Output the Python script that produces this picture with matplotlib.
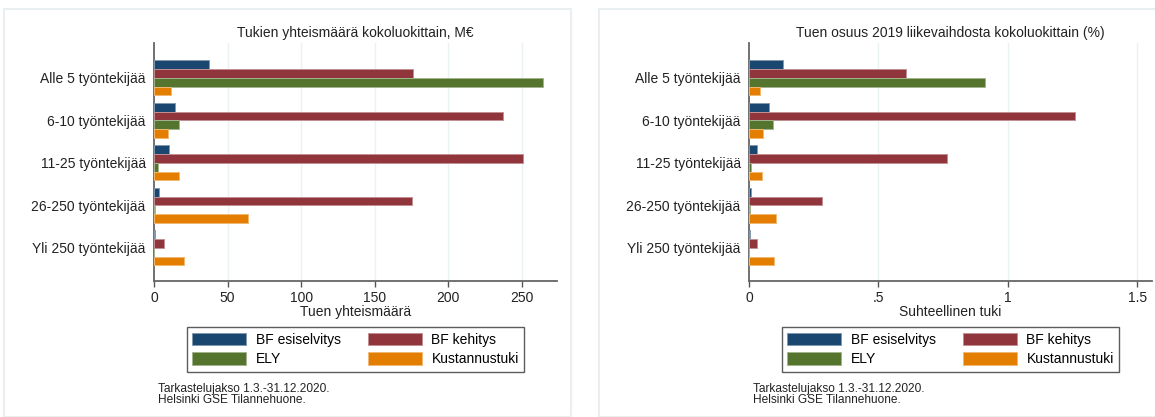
import numpy as np
import matplotlib
matplotlib.use('Agg')
import matplotlib.pyplot as plt
from matplotlib.patches import Patch, Rectangle
from matplotlib.colors import to_rgb

plt.rcParams['font.family'] = ['Liberation Sans', 'DejaVu Sans']

categories = ['Alle 5 työntekijää', '6-10 työntekijää', '11-25 työntekijää',
              '26-250 työntekijää', 'Yli 250 työntekijää']
series = ['BF esiselvitys', 'BF kehitys', 'ELY', 'Kustannustuki']

# Tukien yhteismäärä, M€
total_esi = [37.4, 14.5, 10.0, 3.4, 0.6]
total_keh = [176.0, 236.9, 250.5, 175.0, 6.6]
total_ely = [264.2, 17.2, 2.5, 0.5, 0.0]
total_kust = [11.8, 9.7, 16.8, 64.0, 20.6]

# Suhteellinen tuki (%)
rel_esi = [0.130, 0.079, 0.030, 0.006, 0.002]
rel_keh = [0.607, 1.260, 0.763, 0.283, 0.030]
rel_ely = [0.912, 0.091, 0.009, 0.002, 0.0]
rel_kust = [0.042, 0.053, 0.051, 0.104, 0.095]

left_ticks = [0, 50, 100, 150, 200, 250]
left_ticklabels = ['0', '50', '100', '150', '200', '250']
right_ticks = [0, 0.5, 1, 1.5]
right_ticklabels = ['0', '.5', '1', '1.5']

colors = ['#1a476f', '#90353b', '#55752f', '#e37e00']
note = 'Tarkastelujakso 1.3.-31.12.2020.\nHelsinki GSE Tilannehuone.'

W, H = 1155, 417
fig = plt.figure(figsize=(W / 100, H / 100), dpi=100)
fig.patch.set_facecolor('white')


def px(x0, y0, x1, y1):
    # pixel box (top-left origin) -> figure fraction rect
    return (x0 / W, 1 - y1 / H, (x1 - x0) / W, (y1 - y0) / H)


def lighter(c, f=0.45):
    r = np.array(to_rgb(c))
    return tuple(r + (1 - r) * f)


# panel frames
for x0, x1 in [(4, 571), (599, 1160)]:
    fig.patches.append(Rectangle((x0 / W, 0), (x1 - x0) / W, 1 - 9 / H,
                                 transform=fig.transFigure, fill=False,
                                 edgecolor='#e9eff1', lw=1.5, zorder=0))


def panel(x0, x1, data, xmax, ticks, ticklabels, title, xlabel):
    ax = fig.add_axes(px(x0, 43, x1, 281))
    h = 0.205
    y = np.arange(len(categories))
    for j, vals in enumerate(data):
        ax.barh(y + (j - 1.5) * h, vals, height=h, color=colors[j],
                edgecolor=lighter(colors[j]), linewidth=0.7, zorder=3)
    ax.set_ylim(4.78, -0.82)
    ax.set_xlim(0, xmax)
    ax.set_yticks(y)
    ax.set_yticklabels(categories, fontsize=10, color='#222222')
    ax.tick_params(axis='y', length=0, pad=6)
    ax.set_xticks(ticks)
    ax.set_xticklabels(ticklabels, fontsize=10, color='#222222')
    ax.tick_params(axis='x', length=4, width=1, color='#555555', pad=3)
    for t in ticks[1:]:
        ax.axvline(t, color='#eaf2f3', lw=1, zorder=1)
    for s in ['top', 'right']:
        ax.spines[s].set_visible(False)
    for s in ['left', 'bottom']:
        ax.spines[s].set_color('#666666')
        ax.spines[s].set_linewidth(1.3)
    ax.set_xlabel(xlabel, fontsize=10, color='#222222', labelpad=0)
    cx = (x0 + x1) / 2 / W
    fig.text(cx, 1 - 33 / H, title, ha='center', va='center',
             fontsize=10, color='#222222')
    # row-wise order in a 2-column legend
    order = [0, 2, 1, 3]
    handles = [Patch(facecolor=colors[k], edgecolor=lighter(colors[k]), lw=0.7)
               for k in order]
    labels = [series[k] for k in order]
    ax.legend(handles, labels, loc='upper center', ncol=2,
              bbox_to_anchor=(cx, 1 - 327 / H), bbox_transform=fig.transFigure,
              fontsize=10, frameon=True, fancybox=False,
              edgecolor='#333333', handlelength=3.9, handleheight=1.0,
              handletextpad=0.7, columnspacing=1.9, labelspacing=0.4,
              borderpad=0.4, borderaxespad=0)
    ax.get_legend().get_frame().set_linewidth(1.0)
    fig.text((x0 + 4) / W, 1 - 383 / H, note, ha='left', va='top',
             fontsize=8.6, color='#222222', linespacing=0.9)
    return ax


panel(154, 557, [total_esi, total_keh, total_ely, total_kust], 273.8,
      left_ticks, left_ticklabels,
      'Tukien yhteismäärä kokoluokittain, M€', 'Tuen yhteismäärä')
panel(749, 1152, [rel_esi, rel_keh, rel_ely, rel_kust], 1.556,
      right_ticks, right_ticklabels,
      'Tuen osuus 2019 liikevaihdosta kokoluokittain (%)', 'Suhteellinen tuki')

fig.savefig('out.png', dpi=100)
